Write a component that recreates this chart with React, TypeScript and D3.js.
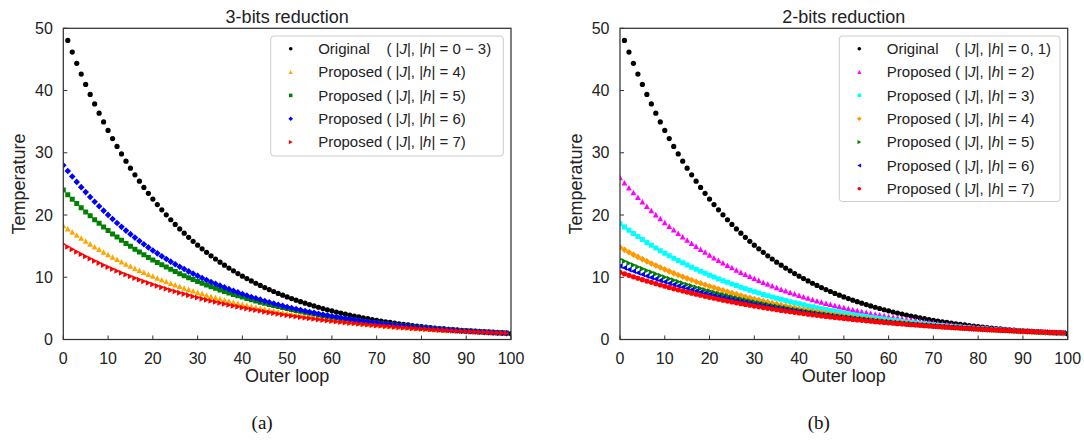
import React from "react";
import * as d3 from "d3";

// Outer-loop indices: the original schedule is logged from loop 1, the proposed ones from loop 0
const loopsOriginal = d3.range(1, 101);
const loopsProposed = d3.range(0, 100);

const xTicks = [0, 10, 20, 30, 40, 50, 60, 70, 80, 90, 100];
const yTicks = [0, 10, 20, 30, 40, 50];

// Temperature per outer loop
const original = [
  48.05, 46.18, 44.38, 42.65, 40.98, 39.38, 37.85, 36.37, 34.95, 33.59,
  32.28, 31.02, 29.81, 28.65, 27.53, 26.46, 25.43, 24.43, 23.48, 22.56,
  21.68, 20.84, 20.03, 19.24, 18.49, 17.77, 17.08, 16.41, 15.77, 15.16,
  14.57, 14.0, 13.45, 12.93, 12.43, 11.94, 11.47, 11.03, 10.6, 10.18,
  9.79, 9.41, 9.04, 8.69, 8.35, 8.02, 7.71, 7.41, 7.12, 6.84,
  6.57, 6.32, 6.07, 5.84, 5.61, 5.39, 5.18, 4.98, 4.78, 4.6,
  4.42, 4.25, 4.08, 3.92, 3.77, 3.62, 3.48, 3.34, 3.21, 3.09,
  2.97, 2.85, 2.74, 2.63, 2.53, 2.43, 2.34, 2.25, 2.16, 2.07,
  1.99, 1.92, 1.84, 1.77, 1.7, 1.63, 1.57, 1.51, 1.45, 1.39,
  1.34, 1.29, 1.24, 1.19, 1.14, 1.1, 1.06, 1.01, 0.97, 0.94,
];

// 3-bits reduction, proposed schedules
const bits3J4 = [
  18.3, 17.77, 17.25, 16.75, 16.27, 15.8, 15.34, 14.89, 14.46, 14.04,
  13.64, 13.24, 12.86, 12.48, 12.12, 11.77, 11.43, 11.1, 10.78, 10.46,
  10.16, 9.87, 9.58, 9.3, 9.03, 8.77, 8.52, 8.27, 8.03, 7.8,
  7.57, 7.35, 7.14, 6.93, 6.73, 6.53, 6.34, 6.16, 5.98, 5.81,
  5.64, 5.48, 5.32, 5.16, 5.01, 4.87, 4.73, 4.59, 4.46, 4.33,
  4.2, 4.08, 3.96, 3.85, 3.74, 3.63, 3.52, 3.42, 3.32, 3.23,
  3.13, 3.04, 2.95, 2.87, 2.78, 2.7, 2.62, 2.55, 2.47, 2.4,
  2.33, 2.26, 2.2, 2.13, 2.07, 2.01, 1.95, 1.9, 1.84, 1.79,
  1.74, 1.69, 1.64, 1.59, 1.55, 1.5, 1.46, 1.42, 1.37, 1.33,
  1.3, 1.26, 1.22, 1.19, 1.15, 1.12, 1.09, 1.06, 1.02, 0.99,
];
const bits3J5 = [
  24.0, 23.26, 22.54, 21.84, 21.16, 20.5, 19.87, 19.25, 18.66, 18.08,
  17.52, 16.97, 16.45, 15.94, 15.44, 14.97, 14.5, 14.05, 13.62, 13.19,
  12.79, 12.39, 12.01, 11.63, 11.27, 10.92, 10.58, 10.26, 9.94, 9.63,
  9.33, 9.04, 8.76, 8.49, 8.23, 7.97, 7.73, 7.49, 7.25, 7.03,
  6.81, 6.6, 6.39, 6.2, 6.0, 5.82, 5.64, 5.46, 5.29, 5.13,
  4.97, 4.82, 4.67, 4.52, 4.38, 4.25, 4.12, 3.99, 3.86, 3.74,
  3.63, 3.52, 3.41, 3.3, 3.2, 3.1, 3.0, 2.91, 2.82, 2.73,
  2.65, 2.57, 2.49, 2.41, 2.33, 2.26, 2.19, 2.12, 2.06, 1.99,
  1.93, 1.87, 1.81, 1.76, 1.7, 1.65, 1.6, 1.55, 1.5, 1.46,
  1.41, 1.37, 1.32, 1.28, 1.24, 1.21, 1.17, 1.13, 1.1, 1.06,
];
const bits3J6 = [
  28.0, 27.08, 26.18, 25.32, 24.48, 23.68, 22.89, 22.14, 21.41, 20.7,
  20.02, 19.36, 18.72, 18.1, 17.5, 16.93, 16.37, 15.83, 15.31, 14.8,
  14.31, 13.84, 13.38, 12.94, 12.51, 12.1, 11.7, 11.32, 10.94, 10.58,
  10.23, 9.89, 9.57, 9.25, 8.95, 8.65, 8.37, 8.09, 7.82, 7.57,
  7.32, 7.07, 6.84, 6.62, 6.4, 6.19, 5.98, 5.78, 5.59, 5.41,
  5.23, 5.06, 4.89, 4.73, 4.57, 4.42, 4.28, 4.14, 4.0, 3.87,
  3.74, 3.62, 3.5, 3.38, 3.27, 3.16, 3.06, 2.96, 2.86, 2.76,
  2.67, 2.59, 2.5, 2.42, 2.34, 2.26, 2.19, 2.11, 2.04, 1.98,
  1.91, 1.85, 1.79, 1.73, 1.67, 1.62, 1.56, 1.51, 1.46, 1.41,
  1.37, 1.32, 1.28, 1.24, 1.19, 1.16, 1.12, 1.08, 1.04, 1.01,
];
const bits3J7 = [
  15.3, 14.89, 14.49, 14.09, 13.71, 13.34, 12.98, 12.63, 12.29, 11.96,
  11.64, 11.32, 11.02, 10.72, 10.43, 10.15, 9.87, 9.61, 9.35, 9.1,
  8.85, 8.61, 8.38, 8.15, 7.93, 7.72, 7.51, 7.31, 7.11, 6.92,
  6.73, 6.55, 6.37, 6.2, 6.03, 5.87, 5.71, 5.56, 5.41, 5.26,
  5.12, 4.98, 4.85, 4.72, 4.59, 4.46, 4.34, 4.23, 4.11, 4.0,
  3.89, 3.79, 3.69, 3.59, 3.49, 3.4, 3.3, 3.21, 3.13, 3.04,
  2.96, 2.88, 2.8, 2.73, 2.65, 2.58, 2.51, 2.44, 2.38, 2.31,
  2.25, 2.19, 2.13, 2.07, 2.02, 1.96, 1.91, 1.86, 1.81, 1.76,
  1.71, 1.67, 1.62, 1.58, 1.53, 1.49, 1.45, 1.41, 1.38, 1.34,
  1.3, 1.27, 1.23, 1.2, 1.17, 1.14, 1.1, 1.07, 1.05, 1.02,
];

// 2-bits reduction, proposed schedules
const bits2J2 = [
  26.0, 25.17, 24.36, 23.58, 22.83, 22.1, 21.39, 20.71, 20.04, 19.4,
  18.78, 18.18, 17.6, 17.04, 16.49, 15.96, 15.45, 14.96, 14.48, 14.02,
  13.57, 13.13, 12.71, 12.31, 11.91, 11.53, 11.16, 10.8, 10.46, 10.12,
  9.8, 9.49, 9.18, 8.89, 8.6, 8.33, 8.06, 7.81, 7.56, 7.31,
  7.08, 6.85, 6.63, 6.42, 6.22, 6.02, 5.82, 5.64, 5.46, 5.28,
  5.11, 4.95, 4.79, 4.64, 4.49, 4.35, 4.21, 4.07, 3.94, 3.82,
  3.69, 3.58, 3.46, 3.35, 3.24, 3.14, 3.04, 2.94, 2.85, 2.76,
  2.67, 2.58, 2.5, 2.42, 2.34, 2.27, 2.19, 2.12, 2.06, 1.99,
  1.93, 1.87, 1.81, 1.75, 1.69, 1.64, 1.59, 1.53, 1.49, 1.44,
  1.39, 1.35, 1.3, 1.26, 1.22, 1.18, 1.15, 1.11, 1.07, 1.04,
];
const bits2J3 = [
  18.6, 18.06, 17.54, 17.03, 16.54, 16.06, 15.59, 15.14, 14.7, 14.27,
  13.86, 13.46, 13.07, 12.69, 12.32, 11.96, 11.62, 11.28, 10.95, 10.64,
  10.33, 10.03, 9.74, 9.45, 9.18, 8.91, 8.66, 8.4, 8.16, 7.92,
  7.69, 7.47, 7.25, 7.04, 6.84, 6.64, 6.45, 6.26, 6.08, 5.9,
  5.73, 5.57, 5.4, 5.25, 5.1, 4.95, 4.8, 4.67, 4.53, 4.4,
  4.27, 4.15, 4.03, 3.91, 3.8, 3.69, 3.58, 3.48, 3.38, 3.28,
  3.18, 3.09, 3.0, 2.91, 2.83, 2.75, 2.67, 2.59, 2.52, 2.44,
  2.37, 2.3, 2.23, 2.17, 2.11, 2.05, 1.99, 1.93, 1.87, 1.82,
  1.77, 1.72, 1.67, 1.62, 1.57, 1.53, 1.48, 1.44, 1.4, 1.36,
  1.32, 1.28, 1.24, 1.2, 1.17, 1.14, 1.1, 1.07, 1.04, 1.01,
];
const bits2J4 = [
  14.8, 14.4, 14.01, 13.63, 13.27, 12.91, 12.56, 12.22, 11.89, 11.57,
  11.26, 10.95, 10.66, 10.37, 10.09, 9.82, 9.55, 9.29, 9.04, 8.8,
  8.56, 8.33, 8.11, 7.89, 7.67, 7.47, 7.27, 7.07, 6.88, 6.69,
  6.51, 6.34, 6.16, 6.0, 5.84, 5.68, 5.52, 5.38, 5.23, 5.09,
  4.95, 4.82, 4.69, 4.56, 4.44, 4.32, 4.2, 4.09, 3.98, 3.87,
  3.77, 3.66, 3.57, 3.47, 3.38, 3.28, 3.2, 3.11, 3.03, 2.94,
  2.86, 2.79, 2.71, 2.64, 2.57, 2.5, 2.43, 2.36, 2.3, 2.24,
  2.18, 2.12, 2.06, 2.01, 1.95, 1.9, 1.85, 1.8, 1.75, 1.7,
  1.66, 1.61, 1.57, 1.52, 1.48, 1.44, 1.41, 1.37, 1.33, 1.29,
  1.26, 1.23, 1.19, 1.16, 1.13, 1.1, 1.07, 1.04, 1.01, 0.98,
];
const bits2J5 = [
  12.9, 12.58, 12.26, 11.96, 11.66, 11.37, 11.08, 10.81, 10.54, 10.27,
  10.02, 9.76, 9.52, 9.28, 9.05, 8.82, 8.6, 8.39, 8.18, 7.97,
  7.78, 7.58, 7.39, 7.21, 7.03, 6.85, 6.68, 6.51, 6.35, 6.19,
  6.04, 5.89, 5.74, 5.59, 5.45, 5.32, 5.19, 5.06, 4.93, 4.81,
  4.69, 4.57, 4.45, 4.34, 4.23, 4.13, 4.03, 3.92, 3.83, 3.73,
  3.64, 3.55, 3.46, 3.37, 3.29, 3.21, 3.12, 3.05, 2.97, 2.9,
  2.82, 2.75, 2.68, 2.62, 2.55, 2.49, 2.43, 2.37, 2.31, 2.25,
  2.19, 2.14, 2.08, 2.03, 1.98, 1.93, 1.88, 1.84, 1.79, 1.75,
  1.7, 1.66, 1.62, 1.58, 1.54, 1.5, 1.46, 1.43, 1.39, 1.35,
  1.32, 1.29, 1.26, 1.22, 1.19, 1.16, 1.13, 1.11, 1.08, 1.05,
];
const bits2J6 = [
  11.8, 11.52, 11.24, 10.97, 10.71, 10.45, 10.2, 9.96, 9.72, 9.48,
  9.26, 9.03, 8.82, 8.61, 8.4, 8.2, 8.0, 7.81, 7.62, 7.44,
  7.26, 7.09, 6.92, 6.75, 6.59, 6.43, 6.28, 6.12, 5.98, 5.83,
  5.69, 5.56, 5.42, 5.29, 5.17, 5.04, 4.92, 4.8, 4.69, 4.58,
  4.47, 4.36, 4.25, 4.15, 4.05, 3.96, 3.86, 3.77, 3.68, 3.59,
  3.5, 3.42, 3.34, 3.26, 3.18, 3.1, 3.03, 2.96, 2.88, 2.82,
  2.75, 2.68, 2.62, 2.55, 2.49, 2.43, 2.38, 2.32, 2.26, 2.21,
  2.16, 2.1, 2.05, 2.0, 1.96, 1.91, 1.86, 1.82, 1.77, 1.73,
  1.69, 1.65, 1.61, 1.57, 1.53, 1.49, 1.46, 1.42, 1.39, 1.36,
  1.32, 1.29, 1.26, 1.23, 1.2, 1.17, 1.14, 1.12, 1.09, 1.06,
];
const bits2J7 = [
  10.8, 10.55, 10.31, 10.07, 9.84, 9.61, 9.39, 9.18, 8.97, 8.76,
  8.56, 8.36, 8.17, 7.98, 7.8, 7.62, 7.44, 7.27, 7.11, 6.94,
  6.78, 6.63, 6.47, 6.32, 6.18, 6.04, 5.9, 5.76, 5.63, 5.5,
  5.37, 5.25, 5.13, 5.01, 4.9, 4.78, 4.67, 4.57, 4.46, 4.36,
  4.26, 4.16, 4.06, 3.97, 3.88, 3.79, 3.7, 3.62, 3.54, 3.46,
  3.38, 3.3, 3.22, 3.15, 3.08, 3.0, 2.94, 2.87, 2.8, 2.74,
  2.68, 2.61, 2.55, 2.49, 2.44, 2.38, 2.33, 2.27, 2.22, 2.17,
  2.12, 2.07, 2.02, 1.98, 1.93, 1.89, 1.84, 1.8, 1.76, 1.72,
  1.68, 1.64, 1.6, 1.57, 1.53, 1.5, 1.46, 1.43, 1.4, 1.36,
  1.33, 1.3, 1.27, 1.24, 1.21, 1.19, 1.16, 1.13, 1.11, 1.08,
];

const SANS = "'Liberation Sans', Arial, Helvetica, sans-serif";
const SPINE = "#333333";

type Shape = "circle" | "triUp" | "square" | "diamond" | "triRight" | "triLeft";

interface Series {
  kind: string;
  level: string;
  loops: number[];
  values: number[];
  color: string;
  shape: Shape;
}

const leftSeries: Series[] = [
  { kind: "Original", level: "0 \u2212 3", loops: loopsOriginal, values: original, color: "#000000", shape: "circle" },
  { kind: "Proposed", level: "4", loops: loopsProposed, values: bits3J4, color: "#ffa500", shape: "triUp" },
  { kind: "Proposed", level: "5", loops: loopsProposed, values: bits3J5, color: "#008000", shape: "square" },
  { kind: "Proposed", level: "6", loops: loopsProposed, values: bits3J6, color: "#0000ff", shape: "diamond" },
  { kind: "Proposed", level: "7", loops: loopsProposed, values: bits3J7, color: "#ff0000", shape: "triRight" },
];

const rightSeries: Series[] = [
  { kind: "Original", level: "0, 1", loops: loopsOriginal, values: original, color: "#000000", shape: "circle" },
  { kind: "Proposed", level: "2", loops: loopsProposed, values: bits2J2, color: "#ff00ff", shape: "triUp" },
  { kind: "Proposed", level: "3", loops: loopsProposed, values: bits2J3, color: "#00ffff", shape: "square" },
  { kind: "Proposed", level: "4", loops: loopsProposed, values: bits2J4, color: "#ff9900", shape: "diamond" },
  { kind: "Proposed", level: "5", loops: loopsProposed, values: bits2J5, color: "#008000", shape: "triRight" },
  { kind: "Proposed", level: "6", loops: loopsProposed, values: bits2J6, color: "#0000ff", shape: "triLeft" },
  { kind: "Proposed", level: "7", loops: loopsProposed, values: bits2J7, color: "#ff0000", shape: "circle" },
];

function markerPath(shape: Shape, scale = 1): string {
  const s = 2.9 * scale;
  switch (shape) {
    case "circle":
      return d3.symbol(d3.symbolCircle, Math.PI * (2.6 * scale) ** 2)() as string;
    case "square": {
      const h = 2.5 * scale;
      return `M${-h},${-h}H${h}V${h}H${-h}Z`;
    }
    case "diamond": {
      const d = 3.3 * scale;
      return `M0,${-d}L${d},0L0,${d}L${-d},0Z`;
    }
    case "triUp":
      return `M0,${-s}L${s},${s * 0.9}L${-s},${s * 0.9}Z`;
    case "triRight":
      return `M${s},0L${-s * 0.9},${s}L${-s * 0.9},${-s}Z`;
    case "triLeft":
      return `M${-s},0L${s * 0.9},${-s}L${s * 0.9},${s}Z`;
  }
}

interface PanelProps {
  id: string;
  left: number;
  right: number;
  title: string;
  caption: string;
  series: Series[];
  legend: { x0: number; x1: number; y0: number; y1: number };
}

const TOP = 28.3;
const BOTTOM = 339.5;

function Panel({ id, left, right, title, caption, series, legend }: PanelProps) {
  const x = d3.scaleLinear().domain([0, 100]).range([left, right]);
  const y = d3.scaleLinear().domain([0, 50]).range([BOTTOM, TOP]);
  const cx = (left + right) / 2;
  const clipId = `clip-${id}`;
  const rowH = 23.35;
  const markerX = legend.x0 + 20;
  const textX = legend.x0 + 47.5;

  return (
    <g>
      <defs>
        <clipPath id={clipId}>
          <rect x={left} y={TOP} width={right - left} height={BOTTOM - TOP} />
        </clipPath>
      </defs>

      <text x={cx} y={22.5} textAnchor="middle" fontFamily={SANS} fontSize={18} fill="#222">
        {title}
      </text>

      {/* markers */}
      <g clipPath={`url(#${clipId})`}>
        {series.map((s, si) => {
          const d = markerPath(s.shape);
          return (
            <g key={si} fill={s.color}>
              {s.values.map((v, i) => (
                <path key={i} d={d} transform={`translate(${x(s.loops[i])},${y(v)})`} />
              ))}
            </g>
          );
        })}
      </g>

      {/* frame */}
      <rect x={left} y={TOP} width={right - left} height={BOTTOM - TOP} fill="none" stroke={SPINE} strokeWidth={1.25} />

      {/* x axis */}
      {xTicks.map((t) => (
        <g key={`x${t}`}>
          <line x1={x(t)} x2={x(t)} y1={BOTTOM} y2={BOTTOM - 4} stroke={SPINE} strokeWidth={1} />
          <text x={x(t)} y={363.5} textAnchor="middle" fontFamily={SANS} fontSize={16} fill="#222">
            {t}
          </text>
        </g>
      ))}
      <text x={cx} y={382} textAnchor="middle" fontFamily={SANS} fontSize={18} fill="#222">
        Outer loop
      </text>

      {/* y axis */}
      {yTicks.map((t) => (
        <g key={`y${t}`}>
          <line x1={left} x2={left + 4} y1={y(t)} y2={y(t)} stroke={SPINE} strokeWidth={1} />
          <text x={left - 10.5} y={y(t) + 5.7} textAnchor="end" fontFamily={SANS} fontSize={16} fill="#222">
            {t}
          </text>
        </g>
      ))}
      <text
        transform={`translate(${left - 38},${(TOP + BOTTOM) / 2}) rotate(-90)`}
        textAnchor="middle"
        fontFamily={SANS}
        fontSize={18}
        fill="#222"
      >
        Temperature
      </text>

      {/* legend */}
      <rect
        x={legend.x0}
        y={legend.y0}
        width={legend.x1 - legend.x0}
        height={legend.y1 - legend.y0}
        rx={3}
        fill="#ffffff"
        fillOpacity={0.85}
        stroke="#cccccc"
        strokeWidth={1}
      />
      {series.map((s, i) => {
        const ry = legend.y0 + 12.7 + i * rowH;
        return (
          <g key={`lg${i}`}>
            <path d={markerPath(s.shape, 0.7)} transform={`translate(${markerX},${ry})`} fill={s.color} />
            <text x={textX} y={ry + 5.2} fontFamily={SANS} fontSize={15} fill="#222">
              {s.kind}
              <tspan x={textX + 68.2}>( |</tspan>
              <tspan fontStyle="italic">J</tspan>
              <tspan>|, |</tspan>
              <tspan fontStyle="italic">h</tspan>
              <tspan>{`| = ${s.level})`}</tspan>
            </text>
          </g>
        );
      })}

      <text x={cx - 25} y={429} textAnchor="middle" fontFamily="'Liberation Serif', 'Times New Roman', serif" fontSize={19} fill="#111">
        {caption}
      </text>
    </g>
  );
}

export default function App() {
  return (
    <svg
      width={1084}
      height={440}
      viewBox="0 0 1084 440"
      style={{ position: "absolute", left: 0, top: 0, background: "#ffffff" }}
    >
      <rect width={1084} height={440} fill="#ffffff" />
      <Panel
        id="a"
        left={63.3}
        right={511}
        title="3-bits reduction"
        caption="(a)"
        series={leftSeries}
        legend={{ x0: 270.7, x1: 503.3, y0: 36, y1: 156 }}
      />
      <Panel
        id="b"
        left={620}
        right={1067.7}
        title="2-bits reduction"
        caption="(b)"
        series={rightSeries}
        legend={{ x0: 839.3, x1: 1060, y0: 36, y1: 201.5 }}
      />
    </svg>
  );
}
